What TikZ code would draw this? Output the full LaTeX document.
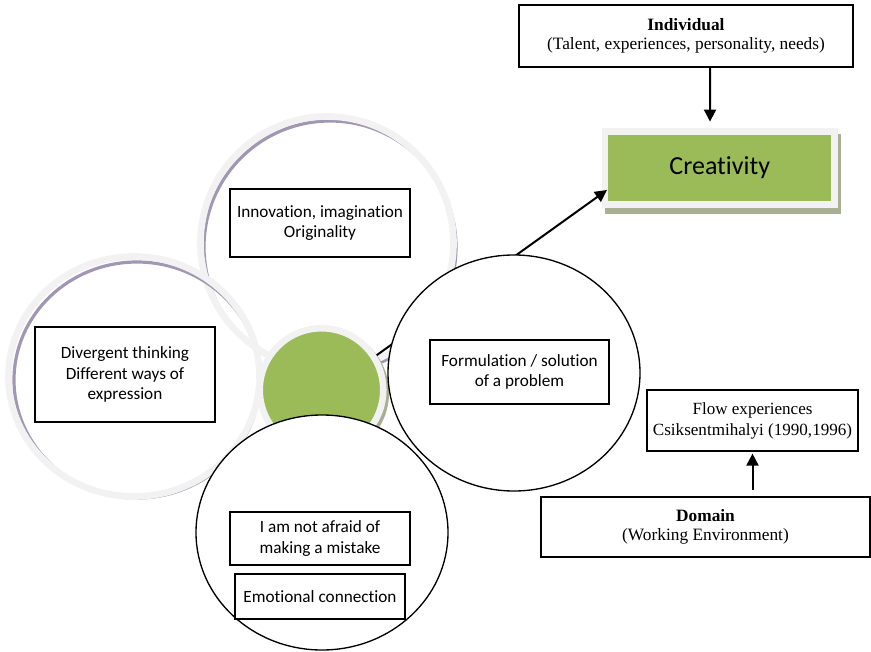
\documentclass[tikz,border=0pt]{standalone}
\usepackage{fontspec}
\setmainfont{Liberation Serif}
\newfontfamily\calib[Ligatures=NoCommon]{Carlito}
\usetikzlibrary{shapes.geometric,arrows.meta}
\definecolor{cgreen}{HTML}{9BBB59}
\definecolor{ringgray}{HTML}{F2F2F2}
\definecolor{purp}{HTML}{A097B2}
\definecolor{gshadow}{HTML}{A8AF92}
\begin{document}
\begin{tikzpicture}[x=0.75pt,y=-0.75pt,
  txtbox/.style={draw=black, line width=0.9pt, fill=white, align=center, inner sep=0pt,
    font=\calib\fontsize{12.9}{15.6}\selectfont},
  serifbox/.style={draw=black, line width=0.9pt, fill=white, align=center, inner sep=0pt,
    font=\fontsize{13}{14.5}\selectfont},
  grayring/.style={ellipse, draw=ringgray, line width=5pt, inner sep=0pt},
  purpring/.style={ellipse, draw=purp, line width=2.4pt, inner sep=0pt},
  blackring/.style={ellipse, draw=black, line width=1pt, fill=white, inner sep=0pt},
  arr/.style={line width=1.5pt, -{Triangle[width=9pt,length=9pt]}}]
\useasboundingbox (0,0) rectangle (871,652);

% Innovation ring
\node[purpring, minimum width=252*0.75pt, minimum height=252*0.75pt] (innS) at (330,247) {};
\node[grayring, minimum width=253*0.75pt, minimum height=253*0.75pt] (innC) at (327,243) {};
% Divergent ring
\node[purpring, minimum width=246*0.75pt, minimum height=236*0.75pt] (divS) at (137,380) {};
\node[grayring, minimum width=251*0.75pt, minimum height=240*0.75pt] (divC) at (134,376.5) {};

% Creativity box
\node[rectangle, fill=gshadow, inner sep=0pt, minimum width=236*0.75pt, minimum height=80*0.75pt] (creS) at (723,174) {};
\node[rectangle, fill=cgreen, draw=ringgray, line width=4.9pt, inner sep=0pt,
  minimum width=229.5*0.75pt, minimum height=73*0.75pt,
  font=\calib\fontsize{19.5}{22}\selectfont] (cre) at (719.75,168) {Creativity};
\coordinate (crin) at (607,190);

% green hub circle
\node[circle, fill=gshadow, inner sep=0pt, minimum size=130*0.75pt] (gS) at (324,393) {};
\draw[arr] (gS.center) -- (crin);
\node[circle, fill=cgreen, draw=ringgray, line width=4.9pt, inner sep=0pt, minimum size=123.5*0.75pt] (g) at (321.5,390) {};

% black circles
\node[blackring, minimum width=252*0.75pt, minimum height=235*0.75pt] (emoC) at (322,532.5) {};
\node[blackring, minimum width=252*0.75pt, minimum height=236*0.75pt] (formC) at (514,373) {};

% text boxes
\node[txtbox, minimum width=180*0.75pt, minimum height=68*0.75pt] (inn) at (320,223) {Innovation, imagination\\Originality};
\node[txtbox, minimum width=180*0.75pt, minimum height=95*0.75pt] (div) at (125,374.5) {Divergent thinking\\Different ways of\\expression};
\node[txtbox, minimum width=179*0.75pt, minimum height=64*0.75pt] (form) at (519.5,372) {Formulation / solution\\of a problem};
\node[txtbox, minimum width=180*0.75pt, minimum height=53*0.75pt] (afr) at (320,538.5) {I am not afraid of\\making a mistake};
\node[txtbox, minimum width=170*0.75pt, minimum height=45*0.75pt] (emo) at (320,596.5) {Emotional connection};

\node[serifbox, minimum width=334*0.75pt, minimum height=62*0.75pt] (ind) at (686,36) {\textbf{Individual}\\(Talent, experiences, personality, needs)};
\node[serifbox, minimum width=211*0.75pt, minimum height=61*0.75pt, font=\fontsize{12.8}{15.75}\selectfont] (flow) at (752.5,420.5) {Flow experiences\\Csiksentmihalyi (1990,1996)};
\node[serifbox, minimum width=329*0.75pt, minimum height=60*0.75pt] (dom) at (705.5,527) {\textbf{Domain}\\(Working Environment)};

% arrows
\draw[arr, shorten >=5pt] ([xshift=18pt]ind.south) -- ([xshift=-7.3pt]cre.north);
\draw[arr, shorten >=1.5pt, shorten <=5pt] (dom.north -| flow.south) -- (flow.south);
\end{tikzpicture}
\end{document}
